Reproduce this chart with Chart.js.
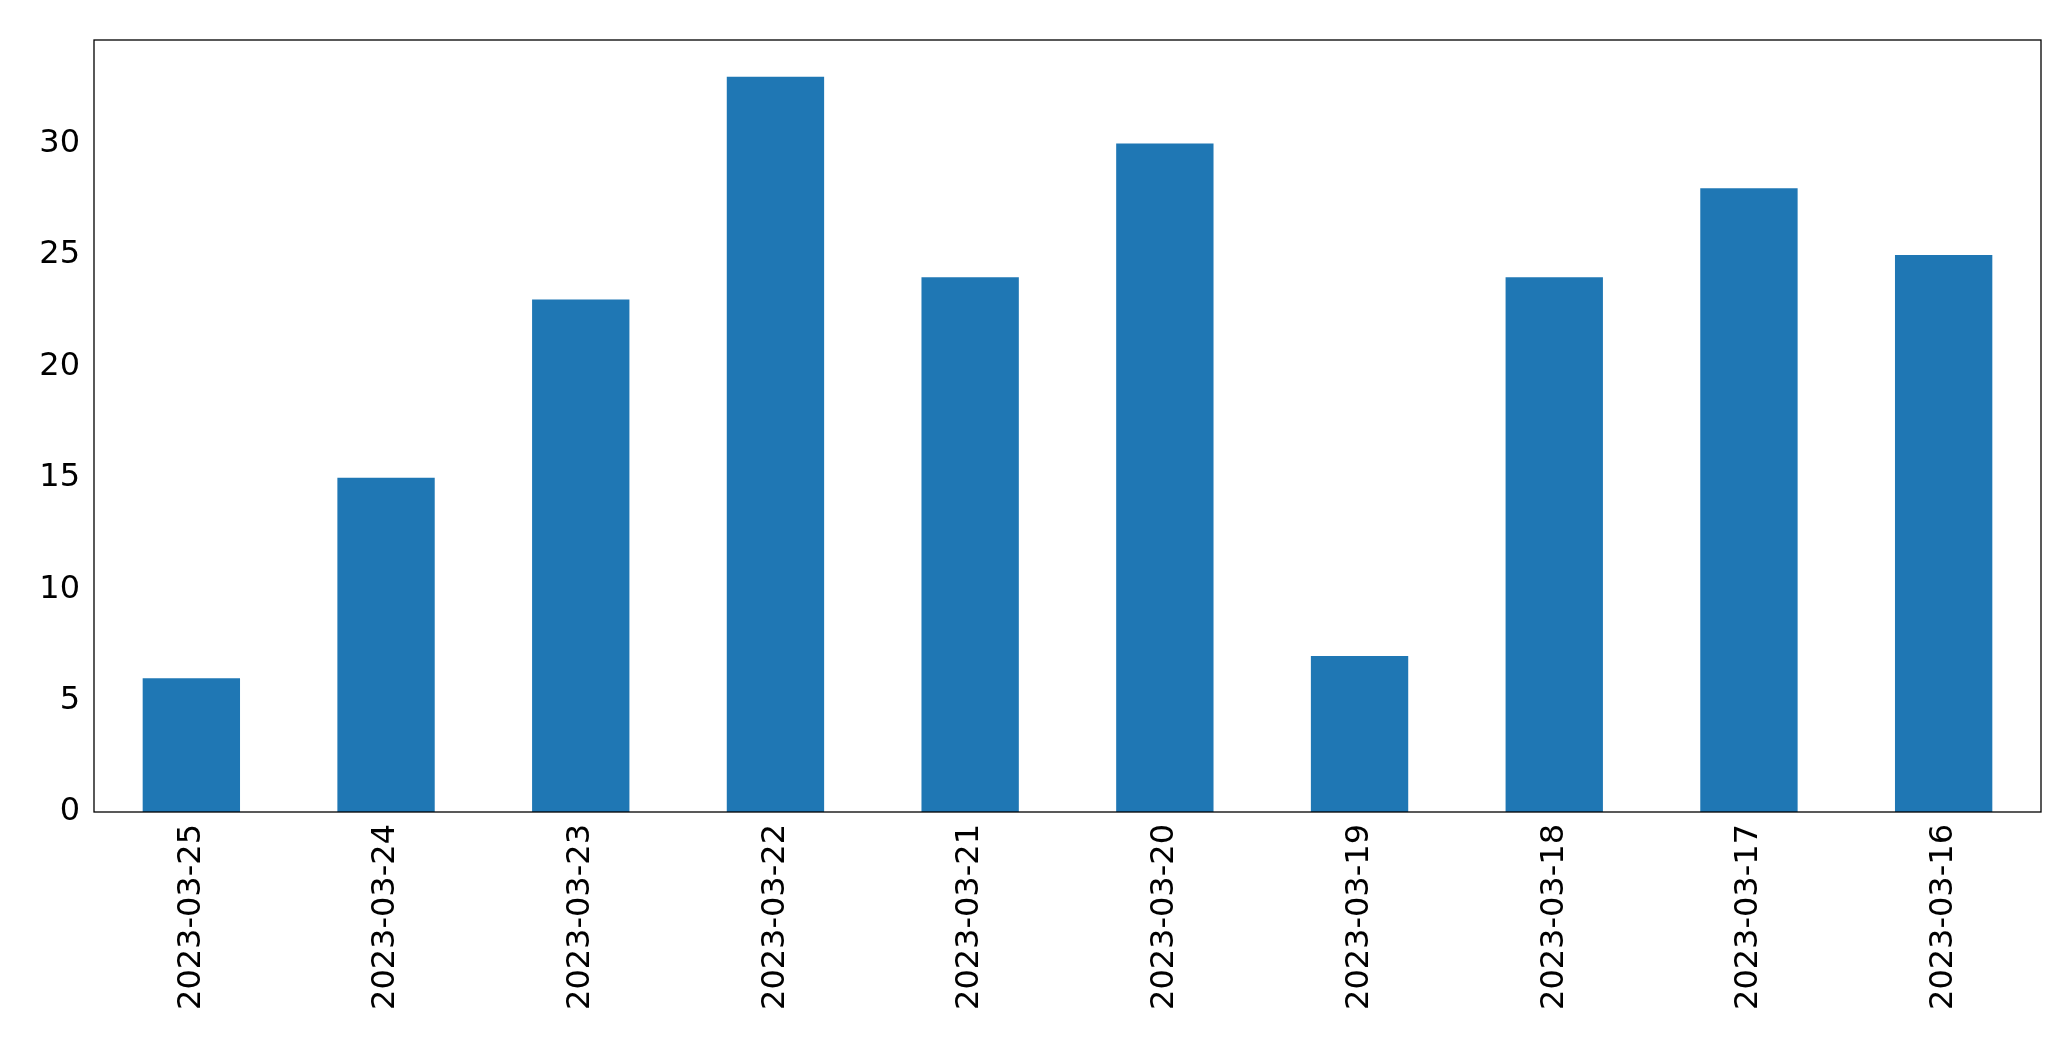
<!doctype html>
<html lang="en">
<head>
<meta charset="utf-8">
<title>Chart</title>
<style>
  html,body{margin:0;padding:0;width:100%;height:100%;overflow:hidden;background:#fff;}
  #wrap{width:2071px;height:1061px;}
</style>
</head>
<body>
<div id="wrap"><canvas id="chart0"></canvas></div>
<script src="https://cdn.jsdelivr.net/npm/chart.js@4.4.0/dist/chart.umd.min.js"></script>
<script>
var labels = ['2023-03-25','2023-03-24','2023-03-23','2023-03-22','2023-03-21','2023-03-20','2023-03-19','2023-03-18','2023-03-17','2023-03-16'];
var counts = [6, 15, 23, 33, 24, 30, 7, 24, 28, 25];
var yTicks = [0, 5, 10, 15, 20, 25, 30];

// frame around the plot area, like matplotlib's spines
var frame = {
  id: 'frame',
  afterDraw: function(chart){
    var a = chart.chartArea, c = chart.ctx;
    c.save();
    c.strokeStyle = '#000';
    c.lineWidth = 1.3;
    c.strokeRect(a.left, a.top, a.right - a.left, a.bottom - a.top);
    c.restore();
  }
};

var ctx = document.getElementById('chart0').getContext('2d');
new Chart(ctx, {
  type: 'bar',
  data: {
    labels: labels,
    datasets: [{
      data: counts,
      backgroundColor: '#1f77b4',
      categoryPercentage: 1.0,
      barPercentage: 0.5
    }]
  },
  options: {
    responsive: true,
    maintainAspectRatio: false,
    animation: false,
    layout: {padding: {left: 0, top: 40, right: 30, bottom: 0}},
    plugins: {legend: {display: false}, tooltip: {enabled: false}},
    scales: {
      x: {
        grid: {display: false, drawTicks: true, tickLength: 8},
        border: {display: false},
        ticks: {color: '#000', font: {family: 'DejaVu Sans', size: 32}, minRotation: 90, maxRotation: 90, padding: 4},
        afterFit: function(s){ s.height = 249; }
      },
      y: {
        min: 0, max: 34.65,
        grid: {display: false, drawTicks: true, tickLength: 8},
        border: {display: false},
        afterBuildTicks: function(s){ s.ticks = yTicks.map(function(v){ return {value: v}; }); },
        ticks: {color: '#000', font: {family: 'DejaVu Sans', size: 32}, padding: 6},
        afterFit: function(s){ s.width = 94; }
      }
    }
  },
  plugins: [frame]
});
</script>
</body>
</html>
